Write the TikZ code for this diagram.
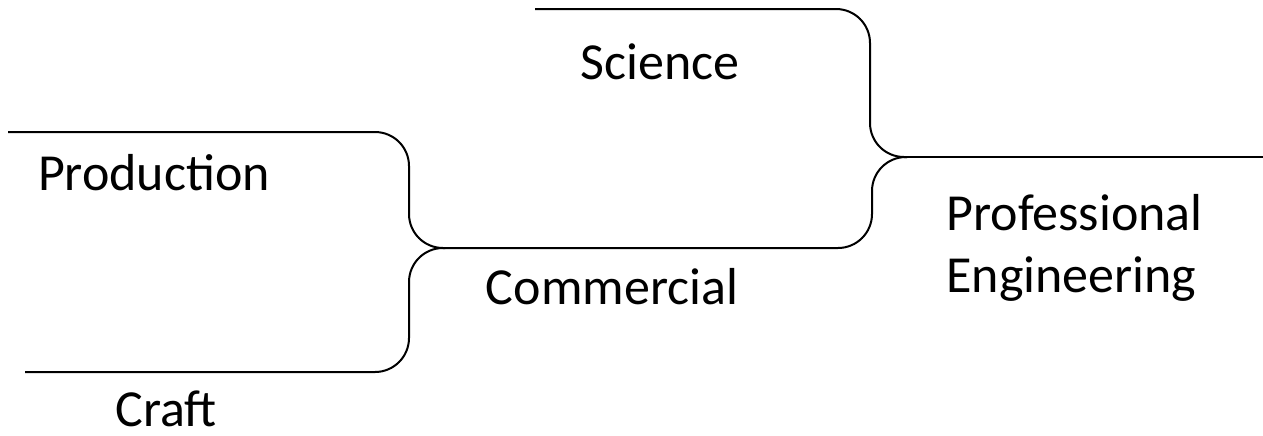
\documentclass[tikz,border=0pt]{standalone}
\usepackage{fontspec}
\setmainfont{Carlito}
\begin{document}
\begin{tikzpicture}[x=0.5pt,y=-0.5pt,
  brace/.style={line width=1pt,rounded corners=17pt},
  lbl/.style={font=\fontsize{26}{31}\selectfont,inner sep=0pt}]
\useasboundingbox (0,0) rectangle (1263,435);
% coordinates
\coordinate (p1) at (8,132);
\coordinate (c1) at (25,372);
\coordinate (j1) at (445,248);
\coordinate (s1) at (535,9);
\coordinate (j2) at (907,157);
\coordinate (e1) at (1263,157);
% braces
\draw[brace] (p1) -- (409,132) -- (409,248) -- (j1);
\draw[brace] (c1) -- (409,372) -- (409,248) -- (j1);
\draw[brace] (j1) -- (872,248) -- (872,157) -- (j2);
\draw[brace] (s1) -- (870,9) -- (870,157) -- (j2);
\draw[line width=1pt] (j2) -- (e1);
% labels
\node[lbl] (science) at (660,62) {Science};
\node[lbl] (production) at (154,173) {Production};
\node[lbl] (commercial) at (612,287) {Commercial};
\node[lbl] (craft) at (166,409) {Craft};
\node[lbl,align=left,anchor=west] (proeng) at (946,248) {Professional\\Engineering};
\end{tikzpicture}
\end{document}
